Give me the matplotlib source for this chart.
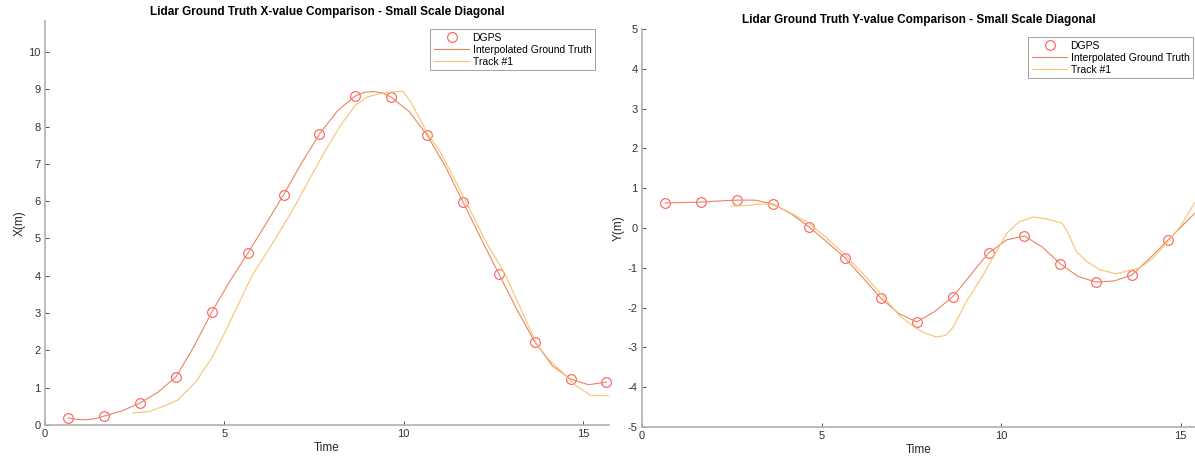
import numpy as np
import matplotlib
matplotlib.use("Agg")
import matplotlib.pyplot as plt

plt.rcParams['font.family'] = ['Liberation Sans', 'DejaVu Sans']
plt.rcParams['axes.unicode_minus'] = False

# DGPS samples (time, value)
dgps_t = [0.65, 1.65, 2.65, 3.65, 4.65, 5.65, 6.65, 7.65, 8.65, 9.65,
          10.65, 11.65, 12.65, 13.65, 14.65, 15.65]
dgps_x = [0.19, 0.24, 0.59, 1.29, 3.03, 4.6, 6.17, 7.8, 8.82, 8.79,
          7.77, 5.98, 4.05, 2.23, 1.23, 1.15]
dgps_y = [0.63, 0.65, 0.70, 0.60, 0.03, -0.75, -1.76, -2.36, -1.73, -0.63,
          -0.20, -0.90, -1.36, -1.18, -0.30, 0.60]

# interpolated ground truth
gt_t = [0.65, 0.9, 1.15, 1.4, 1.65, 2.15, 2.65, 3.15, 3.65, 4.15, 4.65, 5.15,
        5.65, 6.15, 6.65, 7.15, 7.65, 8.15, 8.65, 8.9, 9.15, 9.4, 9.65, 10.15,
        10.65, 11.15, 11.65, 12.15, 12.65, 13.15, 13.65, 14.15, 14.65, 15.15,
        15.65]
gt_x = [0.19, 0.15, 0.14, 0.17, 0.24, 0.38, 0.59, 0.88, 1.29, 2.1, 3.03, 3.85,
        4.6, 5.38, 6.17, 7.02, 7.8, 8.42, 8.82, 8.92, 8.94, 8.9, 8.79, 8.4,
        7.77, 6.95, 5.98, 5.0, 4.05, 3.1, 2.23, 1.58, 1.23, 1.08, 1.15]
gt_y = [0.63, 0.635, 0.64, 0.645, 0.65, 0.68, 0.70, 0.70, 0.60, 0.36, 0.03,
        -0.35, -0.75, -1.25, -1.76, -2.15, -2.36, -2.1, -1.73, -1.46, -1.18,
        -0.9, -0.63, -0.3, -0.20, -0.48, -0.90, -1.22, -1.36, -1.33, -1.18,
        -0.75, -0.30, 0.15, 0.60]

# Track #1
trk_xt = [2.45, 2.9, 3.3, 3.7, 4.2, 4.66, 5.0, 5.31, 5.78, 6.4, 6.9, 7.35,
          7.82, 8.25, 8.66, 9.0, 9.41, 9.7, 9.97, 10.2, 10.45, 10.67, 11.0,
          11.65, 12.26, 12.82, 13.24, 13.69, 14.0, 14.44, 14.8, 15.2, 15.7]
trk_x = [0.32, 0.36, 0.5, 0.67, 1.15, 1.82, 2.45, 3.08, 4.02, 4.96, 5.76,
         6.55, 7.37, 8.05, 8.58, 8.8, 8.9, 8.93, 8.95, 8.65, 8.2, 7.8, 7.35,
         6.15, 4.96, 4.05, 3.16, 2.2, 1.8, 1.39, 1.05, 0.8, 0.78]
trk_yt = [2.48, 2.8, 3.0, 3.2, 3.59, 4.1, 4.6, 5.1, 5.6, 6.1, 6.6, 7.19, 7.6,
          7.9, 8.2, 8.45, 8.66, 9.0, 9.5, 10.16, 10.5, 10.9, 11.3, 11.7, 11.85,
          12.1, 12.4, 12.76, 13.2, 13.87, 14.2, 14.62, 15.0, 15.4, 15.6]
trk_y = [0.55, 0.56, 0.57, 0.6, 0.6, 0.4, 0.15, -0.22, -0.63, -1.1, -1.6,
         -2.22, -2.5, -2.65, -2.74, -2.7, -2.5, -1.9, -1.18, -0.13, 0.15, 0.28,
         0.22, 0.12, -0.1, -0.6, -0.85, -1.05, -1.15, -1.0, -0.78, -0.37, 0.05,
         0.65, 0.85]

c_dgps = '#ff5a5a'
c_gt = '#ea8466'
c_trk = '#f6c46e'

W, H = 1195, 463
fig = plt.figure(figsize=(W / 100, H / 100), dpi=100)
# axes boxes in pixels (left, top, right, bottom)
ax1 = fig.add_axes([45 / W, 1 - 425 / H, 564 / W, 404 / H])
ax2 = fig.add_axes([642 / W, 1 - 427 / H, 553 / W, 398 / H])

panels = [
    (ax1, dgps_x, gt_x, trk_xt, trk_x, 'X(m)', (0, 15.72), (0, 10.83), range(0, 11),
     'Lidar Ground Truth X-value Comparison - Small Scale Diagonal', (595, 29)),
    (ax2, dgps_y, gt_y, trk_yt, trk_y, 'Y(m)', (0, 15.4), (-5, 5), range(-5, 6),
     'Lidar Ground Truth Y-value Comparison - Small Scale Diagonal', (1193, 37)),
]

for ax, dg, gt, tt, tv, ylab, xl, yl, yt, title, lpos in panels:
    ax.plot(dgps_t, dg, 'o', mfc='none', mec=c_dgps, ms=7, mew=0.8,
            label='DGPS', clip_on=False)
    ax.plot(gt_t, gt, '-', color=c_gt, lw=0.8, label='Interpolated Ground Truth')
    ax.plot(tt, tv, '-', color=c_trk, lw=0.8, label='Track #1')
    ax.set_xlim(*xl)
    ax.set_ylim(*yl)
    ax.set_xticks([0, 5, 10, 15])
    ax.set_yticks(list(yt))
    ax.set_xlabel('Time', fontsize=8.5, color='#262626', labelpad=2)
    ax.set_ylabel(ylab, fontsize=8.5, color='#262626', labelpad=2)
    ax.set_title(title, fontsize=8.5, fontweight='bold', pad=4)
    ax.tick_params(direction='in', length=3, width=0.6, labelsize=8,
                   colors='#333333', pad=3)
    for s in ['top', 'right']:
        ax.spines[s].set_visible(False)
    for s in ['left', 'bottom']:
        ax.spines[s].set_color('#b0b0b0')
        ax.spines[s].set_linewidth(1.2)
    leg = ax.legend(loc='upper right', fontsize=7.5, frameon=True, fancybox=False,
                    borderpad=0.35, labelspacing=0.2, handlelength=3.4,
                    handletextpad=0.3, borderaxespad=0,
                    bbox_to_anchor=(lpos[0] / W, 1 - lpos[1] / H),
                    bbox_transform=fig.transFigure)
    leg.get_frame().set_edgecolor('#8c8c8c')
    leg.get_frame().set_linewidth(0.7)

fig.savefig('out.png', dpi=100)
